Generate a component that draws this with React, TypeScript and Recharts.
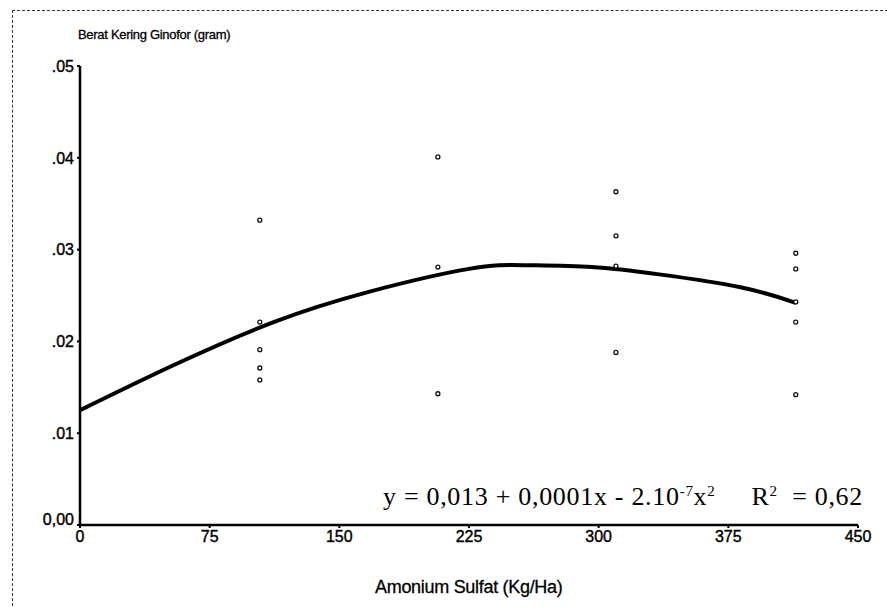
import { ComposedChart, Line, Scatter, XAxis, YAxis } from "recharts";

// dose (Kg/Ha) and observed dry weight per plot
const doseObs = [104, 104, 104, 104, 104, 207, 207, 207, 310, 310, 310, 310, 414, 414, 414, 414, 414];
const weightObs = [
  0.0332, 0.0221, 0.0191, 0.0171, 0.0158,
  0.0401, 0.0281, 0.0143,
  0.0363, 0.0315, 0.0282, 0.0188,
  0.0296, 0.0279, 0.0243, 0.0221, 0.0142,
];

// fitted curve
const doseFit = [0, 54, 112, 167, 225, 258, 296, 335, 382, 414];
const weightFit = [0.0125, 0.0174, 0.0221, 0.0254, 0.0279, 0.0283, 0.0281, 0.0273, 0.0259, 0.0242];

const xTicks = [0, 75, 150, 225, 300, 375, 450];
const yTicks = [0, 0.01, 0.02, 0.03, 0.04, 0.05];
const yTickLabels = ["0,00", ".01", ".02", ".03", ".04", ".05"];

const observed = doseObs.map((x, i) => ({ x, y: weightObs[i] }));
const fitted = doseFit.map((x, i) => ({ x, y: weightFit[i] }));

const font = "'Liberation Sans', Arial, sans-serif";

const Dot = (p: any) => (
  <circle cx={p.cx} cy={p.cy} r={2} fill="#fff" stroke="#111" strokeWidth={1.3} />
);

const YTick = (p: any) => {
  const i = yTicks.indexOf(p.payload.value);
  return (
    <text
      x={p.x}
      y={p.y + (i === 0 ? -6 : 0)}
      dy="0.36em"
      textAnchor="end"
      fill="#000"
      stroke="#000"
      strokeWidth={0.4}
      fontSize={16}
      fontFamily={font}
    >
      {yTickLabels[i]}
    </text>
  );
};

export default function App() {
  return (
    <div style={{ position: "absolute", left: 0, top: 0, width: 887, height: 607, background: "#fff", overflow: "hidden" }}>
      <div
        style={{
          position: "absolute",
          left: 12,
          top: 10,
          width: 900,
          height: 620,
          borderLeft: "1px dashed #333",
          borderTop: "1px dashed #333",
        }}
      />
      <ComposedChart
        width={887}
        height={607}
        margin={{ top: 66, right: 29, bottom: 0, left: 0 }}
        style={{ position: "absolute", left: 0, top: 0 }}
      >
        <XAxis
          type="number"
          dataKey="x"
          domain={[0, 450]}
          ticks={xTicks}
          height={82}
          axisLine={{ stroke: "#000", strokeWidth: 2.5 }}
          tickLine={{ stroke: "#000", strokeWidth: 2 }}
          tickSize={3}
          tickMargin={3}
          tick={{ fill: "#000", stroke: "#000", strokeWidth: 0.4, fontSize: 16, fontFamily: font }}
          allowDataOverflow
        />
        <YAxis
          type="number"
          dataKey="y"
          domain={[0, 0.05]}
          ticks={yTicks}
          width={80}
          axisLine={{ stroke: "#000", strokeWidth: 2.5 }}
          tickLine={{ stroke: "#000", strokeWidth: 2 }}
          tickSize={3}
          tickMargin={3}
          tick={YTick}
          allowDataOverflow
        />
        <Line
          data={fitted}
          dataKey="y"
          type="natural"
          stroke="#000"
          strokeWidth={4}
          dot={false}
          isAnimationActive={false}
        />
        <Scatter data={observed} dataKey="y" shape={Dot} isAnimationActive={false} />
      </ComposedChart>
      <div
        style={{
          position: "absolute",
          left: 78,
          top: 27,
          fontFamily: font,
          fontSize: 13,
          lineHeight: "16px",
          letterSpacing: -0.3,
          color: "#000",
          WebkitTextStroke: "0.3px #000",
        }}
      >
        Berat Kering Ginofor (gram)
      </div>
      <div
        style={{
          position: "absolute",
          left: 375,
          top: 577,
          fontFamily: font,
          fontSize: 18,
          lineHeight: "20px",
          letterSpacing: -0.3,
          color: "#000",
          WebkitTextStroke: "0.3px #000",
        }}
      >
        Amonium Sulfat (Kg/Ha)
      </div>
      <div
        style={{
          position: "absolute",
          left: 383,
          top: 482,
          fontFamily: "'Liberation Serif', 'Times New Roman', serif",
          fontSize: 26,
          lineHeight: "30px",
          letterSpacing: 0.7,
          color: "#000",
          whiteSpace: "pre",
        }}
      >
        y = 0,013 + 0,0001x - 2.10
        <sup style={{ fontSize: 15, lineHeight: 0, verticalAlign: "9px" }}>-7</sup>x
        <sup style={{ fontSize: 15, lineHeight: 0, verticalAlign: "9px" }}>2</sup>
        {"     "}R<sup style={{ fontSize: 15, lineHeight: 0, verticalAlign: "9px" }}>2</sup>
        {"  = 0,62"}
      </div>
    </div>
  );
}
